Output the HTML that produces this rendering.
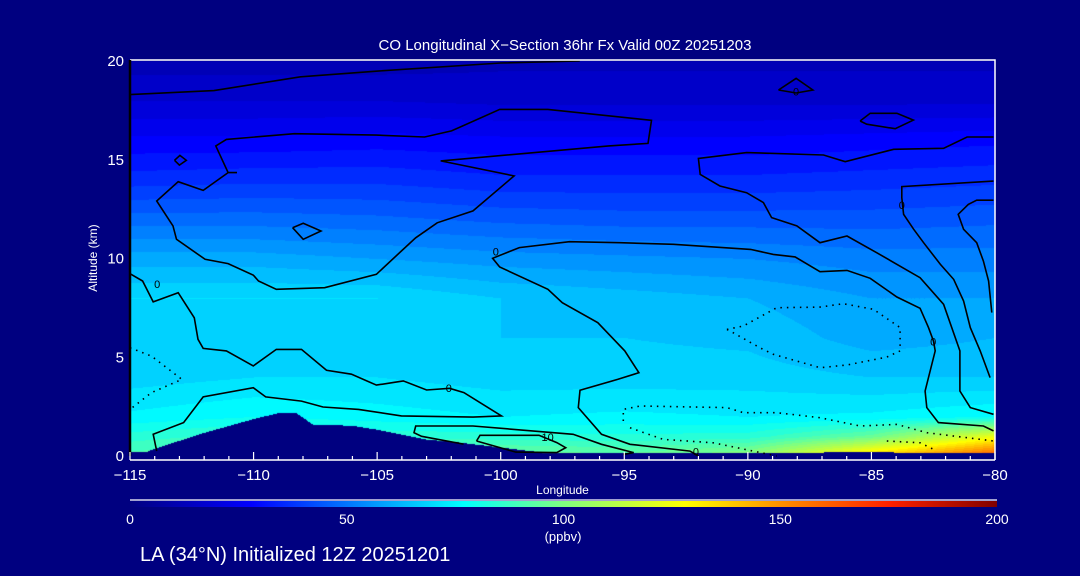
<!DOCTYPE html>
<html><head><meta charset="utf-8">
<style>
html,body{margin:0;padding:0;background:#000080;}
#wrap{position:relative;width:1080px;height:576px;background:#000080;overflow:hidden;font-family:"Liberation Sans",sans-serif;color:#fff;}
canvas,svg{position:absolute;left:0;top:0;}
</style></head>
<body>
<div id="wrap">
<canvas id="field" width="1080" height="576"></canvas>
<svg id="ov" width="1080" height="576"></svg>
</div>
<script>
// ---- data ----
const lons = [-115,-110,-105,-100,-95,-90,-85,-80];
const alts = [0,1,2,4,6,8,10,12,14,16,18,20];
const coRows = [
 [92,96,95,98,96,104,140,165],
 [84,88,85,84,83,84,96,125],
 [75,78,76,74,75,74,75,78],
 [68,70,70,68,68,68,66,66],
 [67,68,68,66,66,65,60,62],
 [70,70,70,66,64,62,58,58],
 [60,60,58,56,55,54,52,52],
 [48,48,47,45,44,44,44,45],
 [36,37,37,35,35,35,36,37],
 [27,27,28,27,27,27,28,29],
 [18,18,18,17,17,17,17,17],
 [12,12,12,13,13,13,13,13]
];
const terrainLon = [-115,-114.3,-114,-113,-112,-111,-110,-109,-108.3,-107.6,-107,-106,-105,-104,-103,-102,-101,-100,-99,-98,-97,-95,-92,-90,-88,-86,-84,-82,-80];
const terrainAlt = [0.25,0.25,0.4,0.8,1.2,1.55,1.9,2.2,2.2,1.6,1.6,1.55,1.35,1.1,0.85,0.75,0.6,0.45,0.3,0.15,0.05,0,0,0.05,0.15,0.25,0.2,0.1,0.05];
const xTicks = [-115,-110,-105,-100,-95,-90,-85,-80];
const yTicks = [0,5,10,15,20];
const cbTicks = [0,50,100,150,200];
const cStops = [0,28,40,58,77,100,128,150,175,200];
const cCols = ['#000080','#0000ff','#0040ff','#00a0ff','#00ffff','#80ff80','#ffff00','#ff9000','#ff2000','#800000'];
const contourC = [[-110.67,14.35],[-111.03,14.35],[-111.53,15.70],[-111.10,16.03],[-108.35,16.32],[-105.03,16.25],[-103.08,16.15],[-101.99,16.46],[-100.04,17.55],[-98.09,17.55],[-93.90,17.0],[-94.04,15.83],[-95.63,15.70],[-102.43,14.94],[-99.46,14.18],[-101.12,12.41],[-102.57,11.81],[-103.44,11.05],[-104.02,10.38],[-105.03,9.20],[-107.12,8.52],[-109.08,8.44],[-109.80,8.86],[-110.01,9.16],[-111.03,9.74],[-111.96,9.96],[-113.12,10.97],[-113.26,11.65],[-113.92,12.91],[-113.05,13.89],[-112.04,13.45],[-111.03,14.35]];
const contourA = [[-115,18.3],[-111.6,18.5],[-108.1,19.2],[-104.9,19.5],[-100,19.9],[-96.8,20]];
const contourD = [[-80.06,1.27],[-80.47,1.52],[-82.29,1.69],[-82.76,2.45],[-82.83,3.29],[-82.42,5.32],[-82.49,5.82],[-82.69,6.5],[-83.03,7.48],[-83.97,8.05],[-85.05,9.0],[-85.99,9.4],[-87.08,9.33],[-88.09,10.08],[-88.97,10.21],[-89.89,10.46],[-93.01,10.72],[-95.17,10.8],[-97.22,10.85],[-99.25,10.55],[-100.33,10.01],[-100.04,9.57],[-98.09,8.44],[-97.51,7.76],[-96.07,6.75],[-94.98,5.32],[-94.41,4.22],[-95.27,3.88],[-96.79,3.33],[-96.86,2.45],[-95.92,1.10],[-94.77,0.59],[-92.34,0.25],[-92.0,0.0]];
const contourE = [[-115,9.23],[-114.49,8.86],[-114.06,7.80],[-113.05,8.27],[-112.40,7.0],[-112.25,5.91],[-112.04,5.45],[-111.10,5.32],[-110.01,4.56],[-109.08,5.40],[-108.06,5.40],[-107.05,4.34],[-106.04,4.14],[-105.03,3.59],[-103.94,3.80],[-103.0,3.34],[-102.07,3.43],[-101.49,3.21],[-99.97,2.03],[-101.12,1.97],[-104.02,2.03],[-105.75,2.36],[-107.19,2.48],[-108.06,2.78],[-109.51,2.99],[-110.01,3.46],[-112.04,2.99],[-112.83,1.69],[-114.06,1.10],[-113.92,0.25]];
const contourF = [[-101.5,0.6],[-103.2,1.0],[-103.51,1.18],[-103.44,1.52],[-101.12,1.52],[-97.07,1.10],[-95.92,0.59],[-94.62,0.17],[-95.05,0.08]];
const contourG = [[-100.98,0.76],[-100.84,1.05],[-98.45,1.05],[-97.73,0.68],[-97.37,0.42],[-97.73,0.17],[-99.39,0.20],[-100.98,0.76]];
const contourH = [[-80.06,16.15],[-81.13,16.15],[-82.08,15.58],[-84.10,15.53],[-86.06,14.90],[-86.94,15.24],[-90.05,15.36],[-92.0,15.07],[-91.93,14.26],[-91.13,13.67],[-90.05,13.33],[-89.37,12.83],[-89.04,12.07],[-88.02,11.65],[-87.08,10.80],[-85.99,11.14],[-84.78,10.29],[-83.03,9.03],[-82.08,7.68],[-81.42,5.32],[-81.42,3.29],[-81.0,2.45],[-80.06,2.11]];
const contourI = [[-80.06,13.92],[-83.77,13.64],[-83.77,13.08],[-83.70,12.24],[-83.29,11.48],[-82.89,10.80],[-82.21,9.70],[-81.67,8.94],[-81.27,7.85],[-81.0,6.50],[-80.60,5.32],[-80.20,3.97]];
const contourJ = [[-80.06,12.95],[-80.74,12.95],[-81.08,12.74],[-81.49,12.24],[-81.27,11.48],[-80.74,10.80],[-80.47,9.87],[-80.26,8.86],[-80.13,7.26]];
const loopTop = [[-88.76,18.53],[-88.05,19.12],[-87.37,18.53],[-88.05,18.38],[-88.76,18.53]];
const loopHex = [[-85.46,16.96],[-85.05,17.35],[-83.97,17.35],[-83.30,17.01],[-84.04,16.57],[-85.19,16.80],[-85.46,16.96]];
const loopLeft = [[-113.2,14.97],[-112.98,15.22],[-112.72,14.97],[-113.0,14.73],[-113.2,14.97]];
const loopMid = [[-108.42,11.56],[-107.99,11.78],[-107.27,11.39],[-107.99,10.97],[-108.42,11.56]];
const dotLeft = [[-115,5.48],[-114.13,5.06],[-112.9,3.88],[-114.13,3.21],[-115,2.36]];
const dotMid = [[-90.85,6.41],[-90.18,6.58],[-88.83,7.51],[-87.08,7.54],[-86.14,7.71],[-84.92,7.43],[-83.84,6.50],[-83.84,5.32],[-84.38,5.01],[-85.99,4.61],[-87.08,4.47],[-88.97,5.15],[-89.51,5.48],[-90.59,6.24],[-90.85,6.41]];
const dotLow1 = [[-95.04,1.77],[-95.04,2.36],[-94.36,2.53],[-90.85,2.45],[-90.18,2.19],[-88.83,2.19],[-87.08,1.94],[-85.46,1.52],[-83.97,1.60],[-82.76,1.18],[-80.06,0.76]];
const dotLow2 = [[-94.77,1.43],[-93.42,0.84],[-91.40,0.67],[-89.78,0.25],[-88.83,0.0]];
const dotLow3 = [[-84.38,0.76],[-83.03,0.67],[-82.49,0.34]];
const labels = [[-113.9,8.7,'0'],[-102.1,3.45,'0'],[-100.2,10.35,'0'],[-98.1,0.95,'10'],[-92.1,0.22,'0'],[-82.5,5.8,'0'],[-83.77,12.7,'0'],[-88.05,18.45,'0']];

// ---- scales ----
const X0=130,X1=995,Y0=456,YTOP=61;
const xs = v => X0 + (v - (-115)) / 35 * (X1 - X0);
const ys = v => Y0 - v / 20 * (Y0 - YTOP);
function hex(c){return [parseInt(c.substr(1,2),16),parseInt(c.substr(3,2),16),parseInt(c.substr(5,2),16)];}
function cmap(v){
  for(let i=0;i<cStops.length-1;i++){
    if(v<=cStops[i+1]){const t=Math.max(0,(v-cStops[i])/(cStops[i+1]-cStops[i]));const a=hex(cCols[i]),b=hex(cCols[i+1]);return [a[0]+(b[0]-a[0])*t,a[1]+(b[1]-a[1])*t,a[2]+(b[2]-a[2])*t];}
  }
  return hex(cCols[cCols.length-1]);
}
function interp(arr,v){
  for(let i=0;i<arr.length-1;i++){ if(v<=arr[i+1]) return [i,(v-arr[i])/(arr[i+1]-arr[i])]; }
  return [arr.length-2,1];
}
function fieldAt(lon,alt){
  const [i,fi]=interp(lons,lon),[j,fj]=interp(alts,alt);
  const a=coRows[j][i],b=coRows[j][i+1],c=coRows[j+1][i],d=coRows[j+1][i+1];
  return (a*(1-fi)+b*fi)*(1-fj)+(c*(1-fi)+d*fi)*fj;
}
function terrainAt(lon){const [i,f]=interp(terrainLon,lon);return terrainAlt[i]+(terrainAlt[i+1]-terrainAlt[i])*f;}

// ---- field ----
const cv=document.getElementById('field'),ctx=cv.getContext('2d');
const img=ctx.createImageData(X1-X0,452-YTOP+1);
for(let py=0;py<img.height;py++){
  const alt=(Y0-(YTOP+py))/(Y0-YTOP)*20;
  for(let px=0;px<img.width;px++){
    const lon=-115+px/(X1-X0)*35;
    let r=0,g=0,b=128;
    if(alt>terrainAt(lon)){
      let v=fieldAt(lon,Math.max(0,alt));
      v=Math.round(v/4)*4;
      [r,g,b]=cmap(v);
    }
    const k=(py*img.width+px)*4;
    img.data[k]=r;img.data[k+1]=g;img.data[k+2]=b;img.data[k+3]=255;
  }
}
ctx.putImageData(img,X0,YTOP);

// ---- overlay ----
const NS='http://www.w3.org/2000/svg',svg=document.getElementById('ov');
function el(tag,attrs,parent){const e=document.createElementNS(NS,tag);for(const k in attrs)e.setAttribute(k,attrs[k]);(parent||svg).appendChild(e);return e;}
function txt(x,y,s,size,anchor,name,extra){const t=el('text',Object.assign({x:x,y:y,fill:'#fff','font-size':size,'text-anchor':anchor||'start','font-family':'Liberation Sans, sans-serif'},extra||{}));t.textContent=s;


return t;}
function line(pts,name,dotted){
  const p=el('polyline',{points:pts.map(q=>xs(q[0]).toFixed(1)+','+ys(q[1]).toFixed(1)).join(' '),fill:'none',stroke:'#000','stroke-width':1.6,'stroke-dasharray':dotted?'1.5,5':'none'});
  
  
}
[[contourA,'contour-18km'],[contourC,'contour-upper-left'],[contourD,'contour-center'],[contourE,'contour-lower-left'],[contourF,'contour-surface'],[contourG,'contour-10-loop'],[contourH,'contour-upper-right'],[contourI,'contour-right-0'],[contourJ,'contour-far-right'],[loopTop,'contour-loop-top'],[loopHex,'contour-loop-hex'],[loopLeft,'contour-loop-left'],[loopMid,'contour-loop-mid']].forEach(c=>line(c[0],c[1],false));
[[dotLeft,'dotted-contour-left'],[dotMid,'dotted-contour-mid'],[dotLow1,'dotted-contour-low1'],[dotLow2,'dotted-contour-low2'],[dotLow3,'dotted-contour-low3']].forEach(c=>line(c[0],c[1],true));
labels.forEach(l=>{txt(xs(l[0]),ys(l[1])+4,l[2],11,'middle','contour-label',{fill:'#000'});});

const fr=el('path',{d:`M${X0} 60 H${X1} V460`,stroke:'#fff','stroke-width':1.5,fill:'none'});


const ly=el('line',{x1:X0,y1:60,x2:X0,y2:456,stroke:'#000','stroke-width':2.5});


const lx=el('line',{x1:X0,y1:460,x2:X1,y2:460,stroke:'#fff','stroke-width':1.5});


for(let v=-115;v<=-80;v++){
  const major=(v%5===0);
  const t=el('line',{x1:xs(v),x2:xs(v),y1:460,y2:major?452:456,stroke:'#fff','stroke-width':1.2});
  
  
}
xTicks.forEach(v=>txt(xs(v),480,'\u2212'+Math.abs(v),15,'middle','x-tick-label'));
yTicks.forEach(v=>txt(124,ys(v)+5,String(v),15,'end','y-tick-label'));
txt(X0+(X1-X0)/2,494,'Longitude',12,'middle','x-axis-title');
txt(97,258,'Altitude (km)',12,'middle','y-axis-title',{transform:'rotate(-90 97 258)'});
txt(565,50,'CO Longitudinal X\u2212Section 36hr  Fx Valid 00Z 20251203',15,'middle','chart-title',{'xml:space':'preserve'});

const defs=el('defs',{});
const grad=el('linearGradient',{id:'cbg',x1:0,x2:1,y1:0,y2:0},defs);
cStops.forEach((s,i)=>el('stop',{offset:s/200,'stop-color':cCols[i]},grad));
const cbx0=130,cbx1=997;
const cbl=el('line',{x1:cbx0,x2:cbx1,y1:500,y2:500,stroke:'#fff','stroke-width':1.2});


const cb=el('rect',{x:cbx0,y:501,width:cbx1-cbx0,height:6,fill:'url(#cbg)'});


cbTicks.forEach(v=>txt(cbx0+v/200*(cbx1-cbx0),524,String(v),14,'middle','colorbar-tick-label'));
txt(563,541,'(ppbv)',13,'middle','colorbar-units');
txt(140,561,'LA (34\u00B0N) Initialized 12Z 20251201',20,'start','footer-title');
</script>
</body></html>
